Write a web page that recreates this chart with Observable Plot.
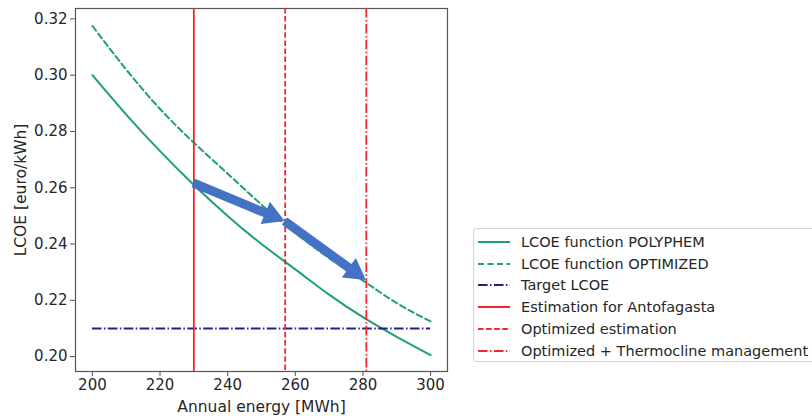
<!DOCTYPE html>
<html>
<head>
<meta charset="utf-8">
<script src="https://cdn.jsdelivr.net/npm/d3@7"></script>
<script src="https://cdn.jsdelivr.net/npm/@observablehq/plot@0.6"></script>
<style>
  html, body { margin: 0; padding: 0; background: #fff; }
  #wrap { position: relative; width: 812px; height: 416px; overflow: hidden; font-family: "DejaVu Sans", sans-serif; }
  #chart { position: absolute; left: 0; top: 0; }
  #legend { position: absolute; left: 473px; top: 228px; width: 380px; height: 134px; border: 1px solid #d4d4d4; border-radius: 3px; box-sizing: border-box; background: #fff; }
  .row { position: absolute; left: 0; height: 20px; display: flex; align-items: center; font-size: 14.5px; color: #262626; white-space: nowrap; }
  .row svg { margin-left: 4px; margin-right: 11px; }
</style>
</head>
<body>
<div id="wrap"><div id="chart"></div><div id="legend"></div></div>
<script>
// Data
const energy = [200, 210, 220, 230, 240, 250, 260, 270, 280, 290, 300];
const lcoePolyphem = [0.300, 0.286, 0.273, 0.261, 0.250, 0.240, 0.231, 0.222, 0.214, 0.207, 0.2005];
const lcoeOptimized = [0.3175, 0.302, 0.288, 0.276, 0.265, 0.254, 0.244, 0.235, 0.227, 0.219, 0.2125];
const targetLcoe = 0.21;
const targetRange = [200, 300];
const verticalNames = ["Estimation for Antofagasta", "Optimized estimation", "Optimized + Thermocline management"];
const verticalEnergy = [230, 257, 281];
const arrowFromX = [230, 257];
const arrowFromY = [0.2615, 0.248];
const arrowToX = [257, 281];
const arrowToY = [0.248, 0.227];
const xTicks = [200, 220, 240, 260, 280, 300];
const yTicks = [0.20, 0.22, 0.24, 0.26, 0.28, 0.30, 0.32];
const legendLabels = ["LCOE function POLYPHEM", "LCOE function OPTIMIZED", "Target LCOE", "Estimation for Antofagasta", "Optimized estimation", "Optimized + Thermocline management"];

const green = "#1f9e78";
const navy = "#22228a";
const red = "#f0282d";
const blue = "#4472c4";
const dashedG = "6,3.5";
const dashed = "5.5,2.6";
const dashdot = "9.6,2.4,1.5,2.4";
const vStyles = [null, dashed, dashdot];

const polyRows = energy.map((e, i) => ({x: e, y: lcoePolyphem[i]}));
const optRows = energy.map((e, i) => ({x: e, y: lcoeOptimized[i]}));
const vRows = verticalEnergy.map((e, i) => ({x: e, name: verticalNames[i], dash: vStyles[i]}));
const arrows = arrowFromX.map((x, i) => ({x1: x, y1: arrowFromY[i], x2: arrowToX[i], y2: arrowToY[i]}));

function arrowMark(index, scales) {
  const g = d3.create("svg:g");
  const sx = scales.x, sy = scales.y;
  const shaft = 4.5, headW = 12, headL = 21;
  for (const a of arrows) {
    const x1 = sx(a.x1), y1 = sy(a.y1), x2 = sx(a.x2), y2 = sy(a.y2);
    const dx = x2 - x1, dy = y2 - y1, L = Math.hypot(dx, dy);
    const ux = dx / L, uy = dy / L, nx = -uy, ny = ux;
    const bx = x2 - ux * headL, by = y2 - uy * headL;
    const pts = [
      [x1 + nx * shaft, y1 + ny * shaft],
      [bx + nx * shaft, by + ny * shaft],
      [bx + nx * headW, by + ny * headW],
      [x2, y2],
      [bx - nx * headW, by - ny * headW],
      [bx - nx * shaft, by - ny * shaft],
      [x1 - nx * shaft, y1 - ny * shaft]
    ];
    g.append("polygon").attr("points", pts.map(p => p.join(",")).join(" ")).attr("fill", blue);
  }
  return g.node();
}

const plot = Plot.plot({
  width: 460,
  height: 416,
  marginLeft: 75,
  marginRight: 13,
  marginTop: 8,
  marginBottom: 45,
  style: {fontFamily: "DejaVu Sans, sans-serif", fontSize: "15px", color: "#262626", background: "#fff"},
  x: {domain: [195, 305]},
  y: {domain: [0.1947, 0.3237]},
  marks: [
    Plot.frame({stroke: "#555", strokeWidth: 1.2}),
    Plot.axisX({ticks: xTicks, tickSize: 5, tickPadding: 3, fontSize: 15, stroke: "#555", label: null}),
    Plot.axisX({ticks: [], tickSize: 0, label: "Annual energy [MWh]", labelAnchor: "center", labelOffset: 40, labelArrow: "none", fontSize: 15.5}),
    Plot.axisY({ticks: yTicks, tickFormat: d3.format(".2f"), tickSize: 5, tickPadding: 3, fontSize: 15, stroke: "#555", label: null}),
    Plot.axisY({ticks: [], tickSize: 0, label: "LCOE [euro/kWh]", labelAnchor: "center", labelOffset: 61, labelArrow: "none", fontSize: 15.5}),
    Plot.line(polyRows, {x: "x", y: "y", stroke: green, strokeWidth: 2, curve: "natural"}),
    Plot.line(optRows, {x: "x", y: "y", stroke: green, strokeWidth: 2, strokeDasharray: dashedG, curve: "natural"}),
    Plot.ruleY([targetLcoe], {x1: targetRange[0], x2: targetRange[1], stroke: navy, strokeWidth: 2, strokeDasharray: dashdot}),
    Plot.ruleX(vRows.filter(d => !d.dash), {x: "x", stroke: red, strokeWidth: 1.8}),
    Plot.ruleX(vRows.filter(d => d.dash === dashed), {x: "x", stroke: red, strokeWidth: 1.8, strokeDasharray: dashed}),
    Plot.ruleX(vRows.filter(d => d.dash === dashdot), {x: "x", stroke: red, strokeWidth: 1.8, strokeDasharray: dashdot}),
    arrowMark
  ]
});
document.getElementById("chart").appendChild(plot);

// Legend
const legendStyles = [
  {color: green, dash: null},
  {color: green, dash: dashedG},
  {color: navy, dash: dashdot},
  {color: red, dash: null},
  {color: red, dash: dashed},
  {color: red, dash: dashdot}
];
const legend = document.getElementById("legend");
legendLabels.forEach((lab, i) => {
  const row = document.createElement("div");
  row.className = "row";
  row.style.top = (3 + i * 21.7) + "px";
  const s = legendStyles[i];
  row.innerHTML = `<svg width="32" height="8"><line x1="0" y1="4" x2="32" y2="4" stroke="${s.color}" stroke-width="2" ${s.dash ? `stroke-dasharray="${s.dash}"` : ""}/></svg><span>${lab}</span>`;
  legend.appendChild(row);
});
</script>
</body>
</html>
